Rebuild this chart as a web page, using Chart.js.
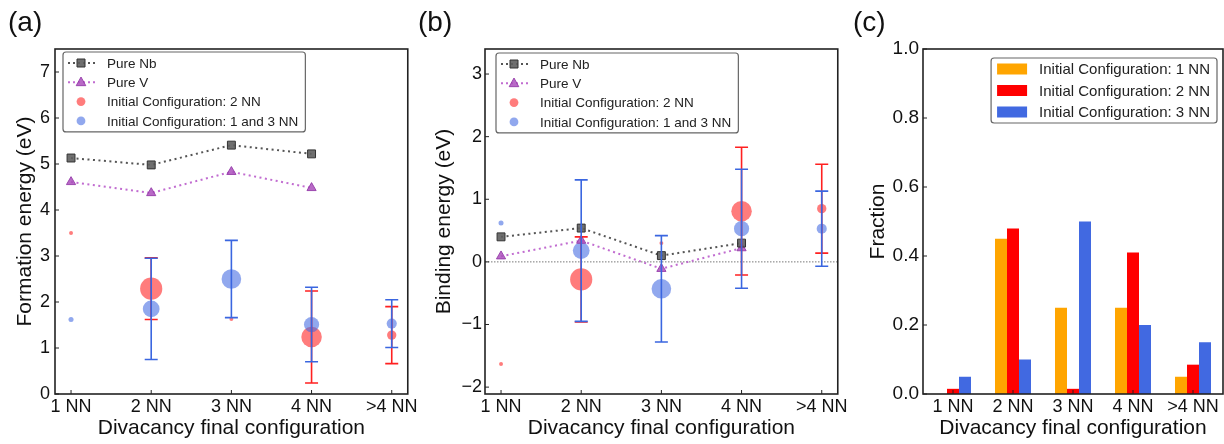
<!DOCTYPE html>
<html>
<head>
<meta charset="utf-8">
<script src="https://cdn.jsdelivr.net/npm/chart.js@4"></script>
<style>
body { margin: 0; background: #fff; width: 1224px; height: 444px; position: relative; overflow: hidden;
       font-family: "Liberation Sans", Arial, sans-serif; }
.panel { position: absolute; top: 0; }
.panel canvas { display: block; }
.tag { position: absolute; top: 8px; font-size: 28px; line-height: 1; color: #111; }
</style>
</head>
<body>
<div class="panel" style="left:0"><canvas id="chartA" width="420" height="444"></canvas></div>
<div class="panel" style="left:420px"><canvas id="chartB" width="430" height="444"></canvas></div>
<div class="panel" style="left:850px"><canvas id="chartC" width="374" height="444"></canvas></div>
<div class="tag" style="left:8px">(a)</div>
<div class="tag" style="left:418px">(b)</div>
<div class="tag" style="left:853px">(c)</div>
<script>
const categories = ['1 NN', '2 NN', '3 NN', '4 NN', '>4 NN'];

// (a) formation energy (eV)
const nbFormation = [5.13, 4.98, 5.41, 5.22];
const vFormation = [4.61, 4.37, 4.83, 4.48];
const redFormation = [3.50, 2.29, 1.63, 1.24, 1.28];
const redFormationErr = [0, 0.67, 0, 1.00, 0.62];
const blueFormation = [1.62, 1.85, 2.50, 1.51, 1.53];
const blueFormationErr = [0, 1.10, 0.84, 0.81, 0.52];

// (b) binding energy (eV)
const nbBinding = [0.40, 0.54, 0.10, 0.30];
const vBinding = [0.09, 0.34, -0.11, 0.22];
const redBinding = [-1.63, -0.28, 0.30, 0.81, 0.85];
const redBindingErr = [0, 0.68, 0, 1.02, 0.71];
const blueBinding = [0.62, 0.18, -0.43, 0.53, 0.53];
const blueBindingErr = [0, 1.13, 0.85, 0.95, 0.60];

// (c) fraction of final configurations per initial configuration
const fracInit1NN = [0, 0.45, 0.25, 0.25, 0.05];
const fracInit2NN = [0.015, 0.48, 0.015, 0.41, 0.085];
const fracInit3NN = [0.05, 0.10, 0.50, 0.20, 0.15];

const yTicksA = [0, 1, 2, 3, 4, 5, 6, 7];
const yTicksB = [-2, -1, 0, 1, 2, 3];

const FONT = '"Liberation Sans", Arial, sans-serif';
Chart.defaults.font.family = FONT;
Chart.defaults.color = '#111';
Chart.defaults.animation = false;

const RED_DOT = 'rgba(255, 30, 30, 0.58)';
const BLUE_DOT = 'rgba(65, 105, 225, 0.58)';
const NB_FILL = 'rgba(95, 95, 95, 0.9)';
const V_FILL = 'rgba(172, 80, 188, 0.85)';

function points(values) {
    return values.map((v, i) => ({ x: i, y: v }));
}

// marker radius follows the fraction shown in (c)
function markerSize(frac) {
    return frac.map(f => 16 * Math.sqrt(f));
}
const blueFrac = fracInit1NN.map((f, i) => (f + fracInit3NN[i]) / 2);

function drawMarker(ctx, style, x, y, r, fill, stroke) {
    ctx.beginPath();
    if (style === 'rect') {
        ctx.rect(x - r, y - r, 2 * r, 2 * r);
    } else if (style === 'triangle') {
        ctx.moveTo(x, y - r * 1.1);
        ctx.lineTo(x + r, y + r * 0.7);
        ctx.lineTo(x - r, y + r * 0.7);
        ctx.closePath();
    } else {
        ctx.arc(x, y, r, 0, Math.PI * 2);
    }
    ctx.fillStyle = fill;
    ctx.fill();
    if (stroke) {
        ctx.strokeStyle = stroke;
        ctx.lineWidth = 1;
        ctx.stroke();
    }
}

// frame, inward ticks, zero line and error bars
const framePlugin = {
    id: 'frame',
    beforeDatasetsDraw(chart, args, opts) {
        if (!opts.zeroLine) return;
        const { ctx, chartArea: a } = chart;
        const y = chart.scales.y.getPixelForValue(0);
        ctx.save();
        ctx.strokeStyle = '#777';
        ctx.lineWidth = 1;
        ctx.setLineDash([1.5, 1.5]);
        ctx.beginPath();
        ctx.moveTo(a.left, y);
        ctx.lineTo(a.right, y);
        ctx.stroke();
        ctx.restore();
    },
    afterDatasetsDraw(chart) {
        const { ctx } = chart;
        const xs = chart.scales.x, ys = chart.scales.y;
        ctx.save();
        ctx.lineWidth = 1.6;
        chart.data.datasets.forEach(ds => {
            if (!ds.errors) return;
            ctx.strokeStyle = ds.errColor;
            ds.data.forEach((p, i) => {
                const e = ds.errors[i];
                if (!e) return;
                const x = xs.getPixelForValue(p.x);
                const y1 = ys.getPixelForValue(p.y - e);
                const y2 = ys.getPixelForValue(p.y + e);
                ctx.beginPath();
                ctx.moveTo(x, y1); ctx.lineTo(x, y2);
                ctx.moveTo(x - 6.5, y1); ctx.lineTo(x + 6.5, y1);
                ctx.moveTo(x - 6.5, y2); ctx.lineTo(x + 6.5, y2);
                ctx.stroke();
            });
        });
        ctx.restore();
    },
    afterDraw(chart) {
        const { ctx, chartArea: a } = chart;
        ctx.save();
        ctx.strokeStyle = '#222';
        ctx.lineWidth = 1;
        const xs = chart.scales.x, ys = chart.scales.y;
        ctx.beginPath();
        xs.ticks.forEach((t, i) => {
            const x = xs.getPixelForTick(i);
            ctx.moveTo(x, a.bottom); ctx.lineTo(x, a.bottom - 4);
        });
        ys.ticks.forEach((t, i) => {
            const y = ys.getPixelForTick(i);
            ctx.moveTo(a.left, y); ctx.lineTo(a.left + 4, y);
        });
        ctx.stroke();
        ctx.lineWidth = 1.6;
        ctx.strokeRect(a.left, a.top, a.right - a.left, a.bottom - a.top);
        ctx.restore();
    }
};

// legend box drawn inside the plot area
const boxLegendPlugin = {
    id: 'boxLegend',
    afterDraw(chart, args, opts) {
        const { ctx, chartArea: a } = chart;
        const items = chart.data.datasets;
        ctx.save();
        ctx.font = opts.fontSize + 'px ' + FONT;
        const textW = Math.max(...items.map(d => ctx.measureText(d.label).width));
        const w = opts.textX + textW + 7;
        const h = opts.rowGap * (items.length - 1) + opts.firstRow * 2;
        const left = opts.right != null ? a.right - opts.right - w : a.left + opts.left;
        const top = a.top + opts.top;
        ctx.beginPath();
        ctx.roundRect(left, top, w, h, 3);
        ctx.fillStyle = '#fff';
        ctx.fill();
        ctx.strokeStyle = '#666';
        ctx.lineWidth = 1.2;
        ctx.stroke();
        items.forEach((d, i) => {
            const y = top + opts.firstRow + i * opts.rowGap;
            if (opts.kind === 'bar') {
                ctx.fillStyle = d.backgroundColor;
                ctx.fillRect(left + 6, y - 5.5, 30, 11);
            } else if (d.showLine) {
                ctx.strokeStyle = d.borderColor;
                ctx.lineWidth = 2;
                ctx.setLineDash([2, 3]);
                ctx.beginPath();
                ctx.moveTo(left + 5, y); ctx.lineTo(left + 32, y);
                ctx.stroke();
                ctx.setLineDash([]);
                drawMarker(ctx, d.pointStyle, left + 18, y, d.pointStyle === 'rect' ? 4 : 4.8,
                    d.pointBackgroundColor, d.pointBorderColor);
            } else {
                drawMarker(ctx, 'circle', left + 18, y, 4.4, d.pointBackgroundColor);
            }
            ctx.fillStyle = '#222';
            ctx.textBaseline = 'middle';
            ctx.fillText(d.label, left + opts.textX, y + 1);
        });
        ctx.restore();
    }
};

function energyChart(id, cfg) {
    return new Chart(document.getElementById(id), {
        type: 'scatter',
        data: {
            datasets: [
                {
                    label: 'Pure Nb', data: points(cfg.nb), showLine: true, order: 1,
                    borderColor: '#555', borderWidth: 2, borderDash: [2, 3.5],
                    pointStyle: 'rect', pointRadius: 5.6,
                    pointBackgroundColor: NB_FILL, pointBorderColor: '#333', pointBorderWidth: 1
                },
                {
                    label: 'Pure V', data: points(cfg.v), showLine: true, order: 2,
                    borderColor: 'rgba(190, 100, 205, 0.95)', borderWidth: 2, borderDash: [2, 3.5],
                    pointStyle: 'triangle', pointRadius: 5.3,
                    pointBackgroundColor: V_FILL, pointBorderColor: 'rgba(150, 60, 170, 0.9)', pointBorderWidth: 1
                },
                {
                    label: 'Initial Configuration: 2 NN', data: points(cfg.red), order: 4,
                    pointRadius: markerSize(fracInit2NN), pointBackgroundColor: RED_DOT, pointBorderWidth: 0,
                    errors: cfg.redErr, errColor: '#ff2020'
                },
                {
                    label: 'Initial Configuration: 1 and 3 NN', data: points(cfg.blue), order: 3,
                    pointRadius: markerSize(blueFrac), pointBackgroundColor: BLUE_DOT, pointBorderWidth: 0,
                    errors: cfg.blueErr, errColor: '#3a66e0'
                }
            ]
        },
        options: {
            responsive: false,
            events: [],
            layout: { padding: { top: 49, right: cfg.padRight, left: 0, bottom: 0 } },
            plugins: {
                legend: { display: false },
                tooltip: { enabled: false },
                frame: { zeroLine: cfg.zeroLine },
                boxLegend: { left: cfg.legendLeft, top: cfg.legendTop, fontSize: 13.5, textX: 44, firstRow: 11, rowGap: 19.3 }
            },
            scales: {
                x: {
                    type: 'linear', min: -0.2, max: 4.2,
                    afterBuildTicks: s => { s.ticks = categories.map((c, i) => ({ value: i })); },
                    afterFit: s => { s.height = 50; },
                    grid: { display: false, drawTicks: false },
                    border: { display: false },
                    ticks: { callback: v => categories[v], font: { size: 18 }, color: '#111', padding: 2, maxRotation: 0, autoSkip: false },
                    title: { display: true, text: 'Divacancy final configuration', font: { size: 21 }, color: '#111', padding: { top: 0, bottom: 3.5 } }
                },
                y: {
                    min: cfg.yMin, max: cfg.yMax,
                    afterBuildTicks: s => { s.ticks = cfg.yTicks.map(v => ({ value: v })); },
                    afterFit: s => { s.width = cfg.yWidth; },
                    grid: { display: false, drawTicks: false },
                    border: { display: false },
                    ticks: { callback: v => v < 0 ? '\u2212' + Math.abs(v) : String(v), font: { size: 18 }, color: '#111', padding: cfg.yPad, autoSkip: false },
                    title: { display: true, text: cfg.yTitle, font: { size: 21 }, color: '#111', padding: { top: cfg.titlePad, bottom: 0 } }
                }
            }
        },
        plugins: [framePlugin, boxLegendPlugin]
    });
}

energyChart('chartA', {
    nb: nbFormation, v: vFormation,
    red: redFormation, redErr: redFormationErr,
    blue: blueFormation, blueErr: blueFormationErr,
    yMin: 0, yMax: 7.5, yTicks: yTicksA, yTitle: 'Formation energy (eV)',
    yWidth: 55, padRight: 8, yPad: 5, titlePad: 12.4,
    legendLeft: 8, legendTop: 3, zeroLine: false
});

energyChart('chartB', {
    nb: nbBinding, v: vBinding,
    red: redBinding, redErr: redBindingErr,
    blue: blueBinding, blueErr: blueBindingErr,
    yMin: -2.11, yMax: 3.4, yTicks: yTicksB, yTitle: 'Binding energy (eV)',
    yWidth: 65, padRight: 8, yPad: 3, titlePad: 11.4,
    legendLeft: 11, legendTop: 4, zeroLine: true
});

new Chart(document.getElementById('chartC'), {
    type: 'bar',
    data: {
        labels: categories,
        datasets: [
            { label: 'Initial Configuration: 1 NN', data: fracInit1NN, backgroundColor: '#ffa500' },
            { label: 'Initial Configuration: 2 NN', data: fracInit2NN, backgroundColor: '#ff0000' },
            { label: 'Initial Configuration: 3 NN', data: fracInit3NN, backgroundColor: '#4169e1' }
        ]
    },
    options: {
        responsive: false,
        events: [],
        layout: { padding: { top: 49, right: 1, left: 0, bottom: 0 } },
        datasets: { bar: { categoryPercentage: 0.6, barPercentage: 1.0, borderWidth: 0 } },
        plugins: {
            legend: { display: false },
            tooltip: { enabled: false },
            frame: {},
            boxLegend: { kind: 'bar', right: 6, top: 9, fontSize: 15, textX: 48, firstRow: 11, rowGap: 21.5 }
        },
        scales: {
            x: {
                afterFit: s => { s.height = 50; },
                grid: { display: false, drawTicks: false },
                border: { display: false },
                ticks: { font: { size: 18 }, color: '#111', padding: 2, maxRotation: 0, autoSkip: false },
                title: { display: true, text: 'Divacancy final configuration', font: { size: 21 }, color: '#111', padding: { top: 0, bottom: 3.5 } }
            },
            y: {
                min: 0, max: 1,
                ticks: { stepSize: 0.2, callback: v => v.toFixed(1), font: { size: 19 }, color: '#111', padding: 4 },
                afterFit: s => { s.width = 73; },
                grid: { display: false, drawTicks: false },
                border: { display: false },
                title: { display: true, text: 'Fraction', font: { size: 21 }, color: '#111', padding: { top: 15.4, bottom: 0 } }
            }
        }
    },
    plugins: [framePlugin, boxLegendPlugin]
});
</script>
</body>
</html>
